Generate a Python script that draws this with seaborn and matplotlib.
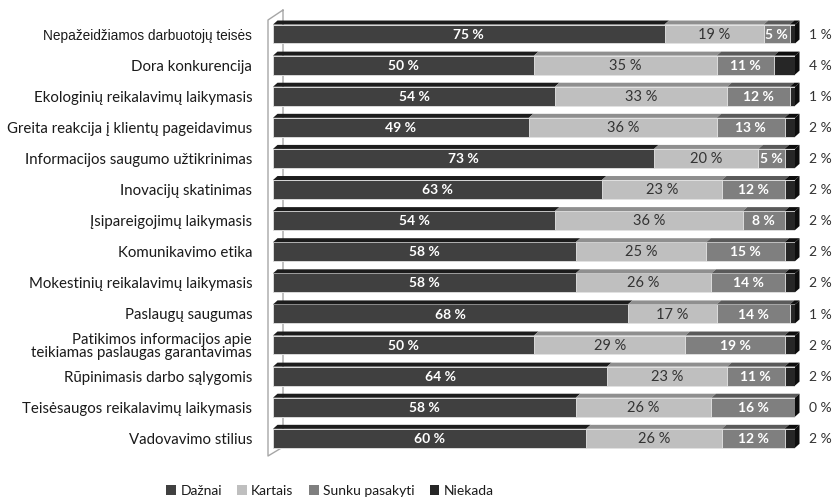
import matplotlib
matplotlib.use("Agg")
import matplotlib.pyplot as plt
import seaborn as sns
import numpy as np
import pandas as pd
from matplotlib.patches import Polygon, Patch
from matplotlib.lines import Line2D

categories = [
    "Nepažeidžiamos darbuotojų teisės",
    "Dora konkurencija",
    "Ekologinių reikalavimų laikymasis",
    "Greita reakcija į klientų pageidavimus",
    "Informacijos saugumo užtikrinimas",
    "Inovacijų skatinimas",
    "Įsipareigojimų laikymasis",
    "Komunikavimo etika",
    "Mokestinių reikalavimų laikymasis",
    "Paslaugų saugumas",
    "Patikimos informacijos apie\nteikiamas paslaugas garantavimas",
    "Rūpinimasis darbo sąlygomis",
    "Teisėsaugos reikalavimų laikymasis",
    "Vadovavimo stilius",
]
dazhnai = [75, 50, 54, 49, 73, 63, 54, 58, 58, 68, 50, 64, 58, 60]
kartais = [19, 35, 33, 36, 20, 23, 36, 25, 26, 17, 29, 23, 26, 26]
sunku = [5, 11, 12, 13, 5, 12, 8, 15, 14, 14, 19, 11, 16, 12]
niekada = [1, 4, 1, 2, 2, 2, 2, 2, 2, 1, 2, 2, 0, 2]
series_names = ["Dažnai", "Kartais", "Sunku pasakyti", "Niekada"]

face_colors = ["#404040", "#bfbfbf", "#7f7f7f", "#262626"]
top_colors = ["#1c1c1c", "#8f8f8f", "#5a5a5a", "#0d0d0d"]

sns.set_theme(style="white")
plt.rcParams['font.family'] = ['Lato', 'DejaVu Sans']

W, H = 834, 499
fig = plt.figure(figsize=(W / 100, H / 100), dpi=100)
row_px = 31.1
n = len(categories)
top_px = 34 - row_px / 2
ax = fig.add_axes([273 / W, 1 - (top_px + n * row_px) / H, 522 / W, n * row_px / H])
ax.patch.set_alpha(0)

series = [dazhnai, kartais, sunku, niekada]
arr = np.array(series, dtype=float)
cum = np.cumsum(arr, axis=0)
starts = cum - arr
bar_h = 0.61

df = pd.DataFrame({"cat": categories})
for k in range(3, -1, -1):
    df["val"] = cum[k]
    sns.barplot(data=df, x="val", y="cat", order=categories, orient="h",
                color=face_colors[k], saturation=1, width=bar_h,
                edgecolor="#e6e6e6", linewidth=0.6, ax=ax)

ax.set_xlim(0, 100)
ax.set_ylim(n - 0.5, -0.5)

# 3D depth
dx = 4.5 / 5.22
dy = 4.0 / row_px
for i in range(n):
    ytop = i - bar_h / 2
    ybot = i + bar_h / 2
    for k in range(4):
        x0, x1 = starts[k, i], cum[k, i]
        if x1 - x0 <= 0:
            continue
        poly = Polygon([(x0, ytop), (x1, ytop), (x1 + dx, ytop - dy), (x0 + dx, ytop - dy)],
                       closed=True, facecolor=top_colors[k], edgecolor="none",
                       zorder=3, clip_on=False)
        ax.add_patch(poly)
    xe = cum[3, i]
    side = Polygon([(xe, ytop), (xe + dx, ytop - dy), (xe + dx, ybot - dy), (xe, ybot)],
                   closed=True, facecolor="#0d0d0d", edgecolor="none", zorder=3, clip_on=False)
    ax.add_patch(side)

# value labels
for i in range(n):
    for k in range(3):
        v = arr[k, i]
        xc = (starts[k, i] + cum[k, i]) / 2
        if k == 1:
            ax.text(xc, i + 0.02, f"{int(v)} %", ha="center", va="center", fontsize=10.5,
                    color="#333333", zorder=5)
        else:
            ax.text(xc, i + 0.02, f"{int(v)} %", ha="center", va="center", fontsize=10,
                    color="white", fontweight="bold", zorder=5)
    ax.text(102.6, i + 0.02, f"{int(arr[3, i])} %", ha="left", va="center",
            fontsize=10, color="#333333", clip_on=False, zorder=5)

# wall decoration
wall_col = "#a6a6a6"
def fl(xs, ys):
    ln = Line2D([x / W for x in xs], [1 - y / H for y in ys], transform=fig.transFigure,
                color=wall_col, linewidth=1.0, zorder=0.5)
    ln.set_clip_on(False)
    ax.add_line(ln)
fl([283, 268, 268, 283, 283], [10, 20, 456, 447, 10])

# axes styling
for s in ax.spines.values():
    s.set_visible(False)
ax.set_xlabel("")
ax.set_ylabel("")
ax.set_xticks([])
ax.tick_params(axis="y", length=0, pad=15, labelsize=10.8, labelcolor="#1a1a1a")
ax.set_yticks(range(n))
ax.set_yticklabels(categories, linespacing=0.92)
lbls = ax.get_yticklabels()
lbls[0].set_fontfamily(["Liberation Sans", "DejaVu Sans"])
lbls[0].set_fontsize(9.8)

handles = [Patch(facecolor=c, edgecolor="none") for c in face_colors]
fig.legend(handles, series_names, loc="center", bbox_to_anchor=(330 / W, 1 - 491 / H),
           ncol=4, frameon=False, handlelength=0.7, handleheight=0.7,
           handletextpad=0.3, columnspacing=1.1, fontsize=10, labelcolor="#1a1a1a")

fig.savefig("out.png", dpi=100)
